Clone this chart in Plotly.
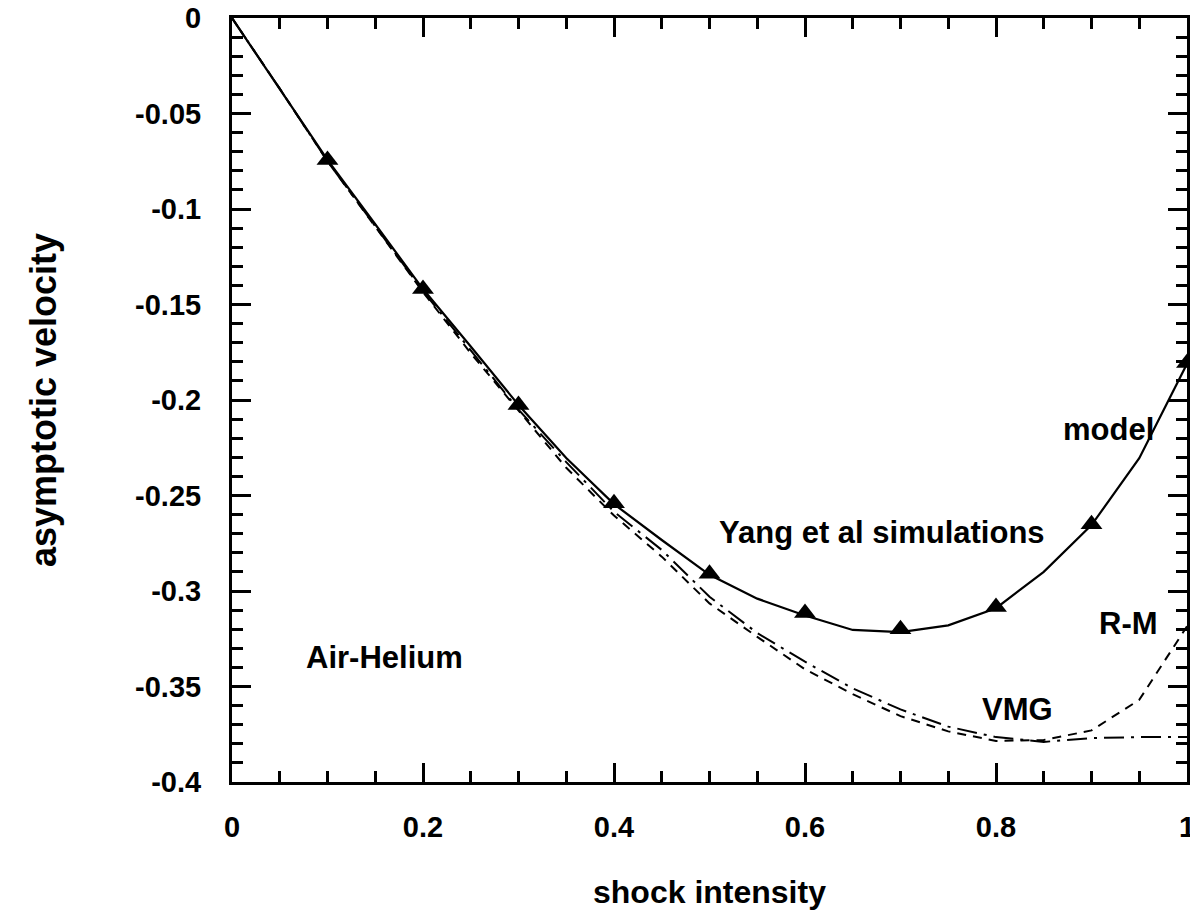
import plotly.graph_objects as go

# ---- data ----
shock_intensity = [0.0, 0.05, 0.1, 0.15, 0.2, 0.25, 0.3, 0.35, 0.4, 0.45, 0.5,
                   0.55, 0.6, 0.65, 0.7, 0.75, 0.8, 0.85, 0.9, 0.95, 1.0]
model = [0.0, -0.037, -0.0743, -0.108, -0.1419, -0.172, -0.2026, -0.2304, -0.2545, -0.2733, -0.2915,
         -0.304, -0.3128, -0.3204, -0.3215, -0.318, -0.309, -0.290, -0.2655, -0.2305, -0.181]
vmg = [0.0, -0.037, -0.075, -0.109, -0.143, -0.174, -0.205, -0.2325, -0.2585, -0.2785, -0.303,
       -0.322, -0.337, -0.351, -0.362, -0.371, -0.3765, -0.379, -0.377, -0.3765, -0.3765]
rm = [0.0, -0.037, -0.075, -0.109, -0.1435, -0.1755, -0.2055, -0.2355, -0.2605, -0.282, -0.3065,
      -0.324, -0.341, -0.354, -0.3655, -0.3735, -0.3785, -0.378, -0.373, -0.357, -0.3185]

sim_x = [0.1, 0.2, 0.3, 0.4, 0.5, 0.6, 0.7, 0.8, 0.9, 1.0]
sim_y = [-0.0743, -0.1419, -0.2026, -0.2540, -0.2910, -0.3115, -0.3200, -0.3084, -0.2650, -0.1806]

x_ticks = [0, 0.2, 0.4, 0.6, 0.8, 1.0]
x_ticklabels = ["0", "0.2", "0.4", "0.6", "0.8", "1"]
y_ticks = [0, -0.05, -0.1, -0.15, -0.2, -0.25, -0.3, -0.35, -0.4]
y_ticklabels = ["0", "-0.05", "-0.1", "-0.15", "-0.2", "-0.25", "-0.3", "-0.35", "-0.4"]

labels = [
    ("model", 0.918, -0.2155),
    ("Yang et al simulations", 0.681, -0.2695),
    ("R-M", 0.939, -0.3168),
    ("VMG", 0.823, -0.3618),
    ("Air-Helium", 0.160, -0.3346),
]

FONT = "Liberation Sans, Arial, Helvetica, sans-serif"

fig = go.Figure()
fig.add_trace(go.Scatter(x=shock_intensity, y=rm, mode="lines",
                         line=dict(color="black", width=2, dash="9px,7px"), name="R-M"))
fig.add_trace(go.Scatter(x=shock_intensity, y=vmg, mode="lines",
                         line=dict(color="black", width=2, dash="20px,7px,3px,7px"), name="VMG"))
fig.add_trace(go.Scatter(x=shock_intensity, y=model, mode="lines",
                         line=dict(color="black", width=2.2), name="model"))
fig.add_trace(go.Scatter(x=sim_x, y=sim_y, mode="markers", cliponaxis=False,
                         marker=dict(symbol="triangle-up", size=19, color="black"),
                         name="Yang et al simulations"))

for txt, xv, yv in labels:
    fig.add_annotation(x=xv, y=yv, text=txt, showarrow=False, xanchor="center", yanchor="middle",
                       font=dict(family=FONT, size=31, color="black", weight="bold"))

fig.add_annotation(xref="paper", yref="paper", x=0.5, y=0, yshift=-110, text="shock intensity",
                   showarrow=False, xanchor="center", yanchor="middle",
                   font=dict(family=FONT, size=32, color="black", weight="bold"))
fig.add_annotation(xref="paper", yref="paper", x=0, y=0.5, xshift=-189, text="asymptotic velocity",
                   textangle=-90, showarrow=False, xanchor="center", yanchor="middle",
                   font=dict(family=FONT, size=36, color="black", weight="bold"))

axis_common = dict(
    showline=True, linewidth=3, linecolor="black", mirror="allticks",
    ticks="inside", ticklen=19, tickwidth=3, tickcolor="black",
    showgrid=False, zeroline=False, automargin=False, ticklabeloverflow="allow",
    tickfont=dict(family=FONT, size=29, color="black", weight="bold"),
)

fig.update_xaxes(range=[0, 1], tickvals=x_ticks, ticktext=x_ticklabels, ticklabelstandoff=17,
                 minor=dict(dtick=0.05, tick0=0, ticks="inside", ticklen=11, tickwidth=3,
                            tickcolor="black", showgrid=False),
                 **axis_common)
fig.update_yaxes(range=[-0.4, 0], tickvals=y_ticks, ticktext=y_ticklabels, ticklabelstandoff=22,
                 minor=dict(dtick=0.01, tick0=0, ticks="inside", ticklen=11, tickwidth=3,
                            tickcolor="black", showgrid=False),
                 **axis_common)

# page body has an 8px default margin: size and margins compensate for it
fig.update_layout(
    width=1190, height=902,
    margin=dict(l=224, r=11, t=10, b=128, autoexpand=False),
    paper_bgcolor="white", plot_bgcolor="white",
    showlegend=False,
)

fig.write_html("out.html")
